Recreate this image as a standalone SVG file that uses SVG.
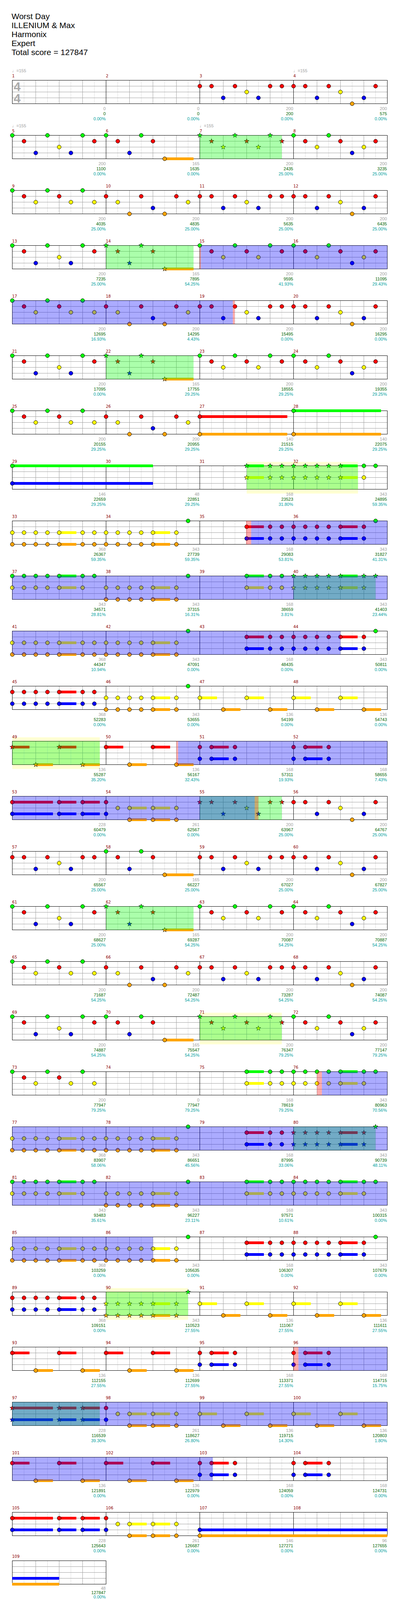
<svg xmlns="http://www.w3.org/2000/svg" width="1024" height="4153" viewBox="0 0 1024 4153">
<defs>
<style>
.gl{stroke:#dcdcdc;stroke-width:1;fill:none}
.gb{stroke:#a0a0a0;stroke-width:1;fill:none}
.gm{stroke:#000;stroke-width:1;fill:none}
.u{fill:none;stroke-width:7}
.uG{stroke:#00ff00}.uR{stroke:#ff0000}.uY{stroke:#ffff00}.uB{stroke:#0000ff}.uO{stroke:#ffa500}
.sp{fill:#00ff00;fill-opacity:.33}
.ac{fill:#0000ff;fill-opacity:.33}
.sq{fill:#ff0000;fill-opacity:.33}
.so{fill:#ffffd2}
.ti{font-family:"Liberation Sans",Arial,sans-serif;font-size:21px;fill:#000}
.ts{font-family:"Liberation Sans",Arial,sans-serif;font-size:32px;font-weight:bold;fill:#aaaaaa}
.tp{font-family:"Liberation Sans","DejaVu Sans",sans-serif;font-size:11px;fill:#a0a0a0}
.mn{font-family:"DejaVu Sans",sans-serif;font-size:10px;fill:#8b0000}
.s1,.s2,.s3{font-family:"Liberation Sans",Arial,sans-serif;font-size:11px;text-anchor:end}
.s1{fill:#a0a0a0}.s2{fill:#006400}.s3{fill:#00a0a0}
</style>
<circle id="G" r="5" stroke="#000" fill="#00ff00"/>
<circle id="R" cy="15" r="5" stroke="#000" fill="#ff0000"/>
<circle id="Y" cy="30" r="5" stroke="#000" fill="#ffff00"/>
<circle id="B" cy="45" r="5" stroke="#000" fill="#0000ff"/>
<circle id="O" cy="60" r="5" stroke="#000" fill="#ffa500"/>
<path id="sG" stroke="#000" stroke-width=".8" fill="#00ff00" d="M0-6.5L1.53-2.1 6.18-2.01 2.47.8 3.82 5.26 0 2.6-3.82 5.26-2.47.8-6.18-2.01-1.53-2.1Z"/>
<path id="sR" stroke="#000" stroke-width=".8" fill="#ff0000" transform="translate(0 15)" d="M0-6.5L1.53-2.1 6.18-2.01 2.47.8 3.82 5.26 0 2.6-3.82 5.26-2.47.8-6.18-2.01-1.53-2.1Z"/>
<path id="sY" stroke="#000" stroke-width=".8" fill="#ffff00" transform="translate(0 30)" d="M0-6.5L1.53-2.1 6.18-2.01 2.47.8 3.82 5.26 0 2.6-3.82 5.26-2.47.8-6.18-2.01-1.53-2.1Z"/>
<path id="sB" stroke="#000" stroke-width=".8" fill="#0000ff" transform="translate(0 45)" d="M0-6.5L1.53-2.1 6.18-2.01 2.47.8 3.82 5.26 0 2.6-3.82 5.26-2.47.8-6.18-2.01-1.53-2.1Z"/>
<path id="sO" stroke="#000" stroke-width=".8" fill="#ffa500" transform="translate(0 60)" d="M0-6.5L1.53-2.1 6.18-2.01 2.47.8 3.82 5.26 0 2.6-3.82 5.26-2.47.8-6.18-2.01-1.53-2.1Z"/>
<g id="staff">
<path class="gl" d="M61.5 0V60M121.5 0V60M181.5 0V60M241.5 0V60M301.5 0V60M361.5 0V60M421.5 0V60M481.5 0V60M541.5 0V60M601.5 0V60M661.5 0V60M721.5 0V60M781.5 0V60M841.5 0V60M901.5 0V60M961.5 0V60"/>
<path class="gb" d="M91.5 0V60M151.5 0V60M211.5 0V60M331.5 0V60M391.5 0V60M451.5 0V60M571.5 0V60M631.5 0V60M691.5 0V60M811.5 0V60M871.5 0V60M931.5 0V60M31.5 15H991.5M31.5 30H991.5M31.5 45H991.5"/>
<path class="gm" d="M271.5 0V60M511.5 0V60M751.5 0V60"/>
<rect class="gm" x="31.5" y="0" width="960" height="60"/>
</g>
<g id="staff1">
<path class="gl" d="M61.5 0V60M121.5 0V60M181.5 0V60M241.5 0V60"/>
<path class="gb" d="M91.5 0V60M151.5 0V60M211.5 0V60M31.5 15H271.5M31.5 30H271.5M31.5 45H271.5"/>
<rect class="gm" x="31.5" y="0" width="240" height="60"/>
</g>
<g id="pA"><use href="#G" x="31.5"/><use href="#R" x="61.5"/><use href="#B" x="91.5"/><use href="#G" x="121.5"/><use href="#Y" x="151.5"/><use href="#B" x="181.5"/><use href="#G" x="211.5"/><use href="#R" x="241.5"/></g>
<g id="pBn"><path class="u uO" d="M421.5 60h74"/><use href="#G" x="271.5"/><use href="#R" x="301.5"/><use href="#B" x="331.5"/><use href="#G" x="361.5"/><use href="#R" x="391.5"/><use href="#O" x="421.5"/></g>
<g id="pBs"><path class="u uO" d="M421.5 60h74"/><use href="#sG" x="271.5"/><use href="#sR" x="301.5"/><use href="#sB" x="331.5"/><use href="#sG" x="361.5"/><use href="#sR" x="391.5"/><use href="#sO" x="421.5"/></g>
<g id="pCn"><use href="#G" x="511.5"/><use href="#R" x="541.5"/><use href="#Y" x="571.5"/><use href="#G" x="601.5"/><use href="#R" x="631.5"/><use href="#Y" x="661.5"/><use href="#G" x="691.5"/><use href="#R" x="721.5"/></g>
<g id="pCs"><use href="#sG" x="511.5"/><use href="#sR" x="541.5"/><use href="#sY" x="571.5"/><use href="#sG" x="601.5"/><use href="#sR" x="631.5"/><use href="#sY" x="661.5"/><use href="#sG" x="691.5"/><use href="#sR" x="721.5"/></g>
<g id="pD"><use href="#G" x="751.5"/><use href="#R" x="781.5"/><use href="#Y" x="811.5"/><use href="#G" x="841.5"/><use href="#R" x="871.5"/><use href="#B" x="901.5"/><use href="#Y" x="931.5"/><use href="#R" x="961.5"/></g>
<g id="pE"><use href="#G" x="31.5"/><use href="#R" x="61.5"/><use href="#Y" x="91.5"/><use href="#G" x="121.5"/><use href="#R" x="151.5"/><use href="#Y" x="181.5"/><use href="#G" x="211.5"/><use href="#Y" x="241.5"/></g>
<g id="pF"><use href="#R" x="271.5"/><use href="#Y" x="301.5"/><use href="#O" x="331.5"/><use href="#R" x="361.5"/><use href="#B" x="391.5"/><use href="#O" x="421.5"/><use href="#R" x="451.5"/><use href="#Y" x="481.5"/></g>
<g id="pG"><use href="#R" x="511.5"/><use href="#R" x="541.5"/><use href="#B" x="571.5"/><use href="#R" x="601.5"/><use href="#Y" x="631.5"/><use href="#B" x="661.5"/><use href="#R" x="691.5"/><use href="#R" x="721.5"/></g>
<g id="pGs"><use href="#sR" x="511.5"/><use href="#sR" x="541.5"/><use href="#sB" x="571.5"/><use href="#sR" x="601.5"/><use href="#sY" x="631.5"/><use href="#sB" x="661.5"/><use href="#sR" x="691.5"/><use href="#sR" x="721.5"/></g>
<g id="pH"><use href="#R" x="751.5"/><use href="#R" x="781.5"/><use href="#B" x="811.5"/><use href="#R" x="841.5"/><use href="#Y" x="871.5"/><use href="#O" x="901.5"/><use href="#B" x="931.5"/><use href="#R" x="961.5"/></g>
<g id="yoA"><path class="u uY" d="M151.5 30h44"/><path class="u uO" d="M151.5 60h44"/><use href="#Y" x="31.5"/><use href="#O" x="31.5"/><use href="#Y" x="61.5"/><use href="#O" x="61.5"/><use href="#Y" x="91.5"/><use href="#O" x="91.5"/><use href="#Y" x="121.5"/><use href="#O" x="121.5"/><use href="#Y" x="151.5"/><use href="#O" x="151.5"/><use href="#Y" x="211.5"/><use href="#O" x="211.5"/><use href="#Y" x="241.5"/><use href="#O" x="241.5"/></g>
<g id="gyA"><path class="u uG" d="M151.5 0h44"/><path class="u uY" d="M151.5 30h44"/><use href="#G" x="31.5"/><use href="#Y" x="31.5"/><use href="#G" x="61.5"/><use href="#Y" x="61.5"/><use href="#G" x="91.5"/><use href="#Y" x="91.5"/><use href="#G" x="121.5"/><use href="#Y" x="121.5"/><use href="#G" x="151.5"/><use href="#Y" x="151.5"/><use href="#G" x="211.5"/><use href="#Y" x="211.5"/><use href="#G" x="241.5"/></g>
<g id="rbA"><path class="u uR" d="M151.5 15h44"/><path class="u uB" d="M151.5 45h44"/><use href="#R" x="31.5"/><use href="#B" x="31.5"/><use href="#R" x="61.5"/><use href="#B" x="61.5"/><use href="#R" x="91.5"/><use href="#B" x="91.5"/><use href="#R" x="121.5"/><use href="#B" x="121.5"/><use href="#R" x="151.5"/><use href="#B" x="151.5"/><use href="#R" x="211.5"/><use href="#B" x="211.5"/><use href="#R" x="241.5"/><use href="#B" x="241.5"/></g>
<g id="yoB"><path class="u uY" d="M391.5 30h44"/><path class="u uO" d="M391.5 60h44"/><use href="#Y" x="271.5"/><use href="#O" x="271.5"/><use href="#Y" x="301.5"/><use href="#O" x="301.5"/><use href="#Y" x="331.5"/><use href="#O" x="331.5"/><use href="#Y" x="361.5"/><use href="#O" x="361.5"/><use href="#Y" x="391.5"/><use href="#O" x="391.5"/><use href="#Y" x="451.5"/><use href="#O" x="451.5"/><use href="#G" x="481.5"/></g>
<g id="rbC"><path class="u uR" d="M631.5 15h44M871.5 15h44"/><path class="u uB" d="M631.5 45h44M871.5 45h44"/><use href="#R" x="631.5"/><use href="#B" x="631.5"/><use href="#R" x="691.5"/><use href="#B" x="691.5"/><use href="#R" x="721.5"/><use href="#B" x="721.5"/><use href="#R" x="751.5"/><use href="#B" x="751.5"/><use href="#R" x="781.5"/><use href="#B" x="781.5"/><use href="#R" x="811.5"/><use href="#B" x="811.5"/><use href="#R" x="841.5"/><use href="#B" x="841.5"/><use href="#R" x="871.5"/><use href="#B" x="871.5"/><use href="#R" x="931.5"/><use href="#B" x="931.5"/><use href="#G" x="961.5"/></g>
<g id="gyC"><path class="u uG" d="M631.5 0h44M871.5 0h44"/><path class="u uY" d="M631.5 30h44M871.5 30h44"/><use href="#G" x="631.5"/><use href="#Y" x="631.5"/><use href="#G" x="691.5"/><use href="#Y" x="691.5"/><use href="#G" x="721.5"/><use href="#Y" x="721.5"/><use href="#G" x="751.5"/><use href="#Y" x="751.5"/><use href="#G" x="781.5"/><use href="#Y" x="781.5"/><use href="#G" x="811.5"/><use href="#Y" x="811.5"/><use href="#G" x="841.5"/><use href="#Y" x="841.5"/><use href="#G" x="871.5"/><use href="#Y" x="871.5"/><use href="#G" x="931.5"/><use href="#Y" x="931.5"/><use href="#G" x="961.5"/></g>
<g id="alt"><path class="u uY" d="M511.5 30h44M631.5 30h44M751.5 30h44M871.5 30h44"/><path class="u uO" d="M571.5 60h44M691.5 60h44M811.5 60h44M931.5 60h44"/><use href="#Y" x="511.5"/><use href="#O" x="571.5"/><use href="#Y" x="631.5"/><use href="#O" x="691.5"/><use href="#Y" x="751.5"/><use href="#O" x="811.5"/><use href="#Y" x="871.5"/><use href="#O" x="931.5"/></g>
<g id="ro"><path class="u uR" d="M31.5 15h44M151.5 15h44M271.5 15h44M391.5 15h44"/><path class="u uO" d="M91.5 60h44M211.5 60h44M331.5 60h44M451.5 60h44"/><use href="#R" x="31.5"/><use href="#O" x="91.5"/><use href="#R" x="151.5"/><use href="#O" x="211.5"/><use href="#R" x="271.5"/><use href="#O" x="331.5"/><use href="#R" x="391.5"/><use href="#O" x="451.5"/></g>
<g id="rbD"><path class="u uR" d="M541.5 15h44M781.5 15h44"/><path class="u uB" d="M541.5 45h44M781.5 45h44"/><use href="#R" x="511.5"/><use href="#B" x="511.5"/><use href="#R" x="541.5"/><use href="#B" x="541.5"/><use href="#R" x="601.5"/><use href="#B" x="601.5"/><use href="#R" x="751.5"/><use href="#B" x="751.5"/><use href="#R" x="781.5"/><use href="#B" x="781.5"/><use href="#R" x="841.5"/><use href="#B" x="841.5"/></g>
<g id="m53"><path class="u uR" d="M31.5 15h104M151.5 15h44M211.5 15h44"/><path class="u uB" d="M31.5 45h104M151.5 45h44M211.5 45h44"/><path class="u uY" d="M331.5 30h44M391.5 30h44"/><path class="u uO" d="M331.5 60h44M391.5 60h44"/><use href="#R" x="31.5"/><use href="#B" x="31.5"/><use href="#R" x="151.5"/><use href="#B" x="151.5"/><use href="#R" x="211.5"/><use href="#B" x="211.5"/><use href="#R" x="271.5"/><use href="#B" x="271.5"/><use href="#Y" x="301.5"/><use href="#Y" x="331.5"/><use href="#O" x="331.5"/><use href="#Y" x="391.5"/><use href="#O" x="391.5"/><use href="#Y" x="451.5"/><use href="#O" x="451.5"/></g>
</defs>
<rect x="0" y="0" width="1024" height="4153" fill="#fff"/>
<g id="title">
<text class="ti" x="29.5" y="49.3">Worst Day</text>
<text class="ti" x="29.5" y="72.3">ILLENIUM &amp; Max</text>
<text class="ti" x="29.5" y="95.3">Harmonix</text>
<text class="ti" x="29.5" y="118.3">Expert</text>
<text class="ti" x="29.5" y="141.3">Total score = 127847</text>
</g>

<g id="row1" transform="translate(0,205.5)">
<use href="#staff"/>
<text class="ts" x="35" y="27">4</text><text class="ts" x="35" y="57">4</text>
<use href="#pG"/><use href="#pH"/>
<text class="tp" x="31" y="-20.5">♩=155</text><text class="tp" x="751" y="-20.5">♩=155</text>
<text class="mn" x="31" y="-8">1</text><text class="mn" x="271" y="-8">2</text><text class="mn" x="511" y="-8">3</text><text class="mn" x="751" y="-8">4</text>
<text class="s1" x="270.5" y="76.5">0</text><text class="s2" x="270.5" y="89.8">0</text><text class="s3" x="270.5" y="102.5">0.00%</text>
<text class="s1" x="510.5" y="76.5">0</text><text class="s2" x="510.5" y="89.8">0</text><text class="s3" x="510.5" y="102.5">0.00%</text>
<text class="s1" x="750.5" y="76.5">200</text><text class="s2" x="750.5" y="89.8">200</text><text class="s3" x="750.5" y="102.5">0.00%</text>
<text class="s1" x="990.5" y="76.5">200</text><text class="s2" x="990.5" y="89.8">575</text><text class="s3" x="990.5" y="102.5">0.00%</text>
</g>

<g id="row2" transform="translate(0,346.5)">
<use href="#staff"/>
<use href="#pA"/><use href="#pBn"/><use href="#pCs"/><use href="#pD"/>
<rect class="sp" x="511.5" y="0" width="210" height="60"/>
<text class="tp" x="31" y="-20.5">♩=155</text><text class="tp" x="511" y="-20.5">♩=155</text>
<text class="mn" x="31" y="-8">5</text><text class="mn" x="271" y="-8">6</text><text class="mn" x="511" y="-8">7</text><text class="mn" x="751" y="-8">8</text>
<text class="s1" x="270.5" y="76.5">200</text><text class="s2" x="270.5" y="89.8">1100</text><text class="s3" x="270.5" y="102.5">0.00%</text>
<text class="s1" x="510.5" y="76.5">165</text><text class="s2" x="510.5" y="89.8">1635</text><text class="s3" x="510.5" y="102.5">0.00%</text>
<text class="s1" x="750.5" y="76.5">200</text><text class="s2" x="750.5" y="89.8">2435</text><text class="s3" x="750.5" y="102.5">25.00%</text>
<text class="s1" x="990.5" y="76.5">200</text><text class="s2" x="990.5" y="89.8">3235</text><text class="s3" x="990.5" y="102.5">25.00%</text>
</g>

<g id="row3" transform="translate(0,487.5)">
<use href="#staff"/>
<use href="#pE"/><use href="#pF"/><use href="#pG"/><use href="#pH"/>
<text class="mn" x="31" y="-8">9</text><text class="mn" x="271" y="-8">10</text><text class="mn" x="511" y="-8">11</text><text class="mn" x="751" y="-8">12</text>
<text class="s1" x="270.5" y="76.5">200</text><text class="s2" x="270.5" y="89.8">4035</text><text class="s3" x="270.5" y="102.5">25.00%</text>
<text class="s1" x="510.5" y="76.5">200</text><text class="s2" x="510.5" y="89.8">4835</text><text class="s3" x="510.5" y="102.5">25.00%</text>
<text class="s1" x="750.5" y="76.5">200</text><text class="s2" x="750.5" y="89.8">5635</text><text class="s3" x="750.5" y="102.5">25.00%</text>
<text class="s1" x="990.5" y="76.5">200</text><text class="s2" x="990.5" y="89.8">6435</text><text class="s3" x="990.5" y="102.5">25.00%</text>
</g>

<g id="row4" transform="translate(0,628.5)">
<use href="#staff"/>
<use href="#pA"/><use href="#pBs"/><use href="#pCn"/><use href="#pD"/>
<rect class="sp" x="271.5" y="0" width="224" height="60"/>
<rect class="sq" x="511.5" y="0" width="2.5" height="60"/>
<rect class="ac" x="514" y="0" width="477.5" height="60"/>
<text class="mn" x="31" y="-8">13</text><text class="mn" x="271" y="-8">14</text><text class="mn" x="511" y="-8">15</text><text class="mn" x="751" y="-8">16</text>
<text class="s1" x="270.5" y="76.5">200</text><text class="s2" x="270.5" y="89.8">7235</text><text class="s3" x="270.5" y="102.5">25.00%</text>
<text class="s1" x="510.5" y="76.5">165</text><text class="s2" x="510.5" y="89.8">7895</text><text class="s3" x="510.5" y="102.5">54.25%</text>
<text class="s1" x="750.5" y="76.5">200</text><text class="s2" x="750.5" y="89.8">9595</text><text class="s3" x="750.5" y="102.5">41.93%</text>
<text class="s1" x="990.5" y="76.5">200</text><text class="s2" x="990.5" y="89.8">11095</text><text class="s3" x="990.5" y="102.5">29.43%</text>
</g>

<g id="row5" transform="translate(0,769.5)">
<use href="#staff"/>
<use href="#pE"/><use href="#pF"/><use href="#pG"/><use href="#pH"/>
<rect class="ac" x="31.5" y="0" width="564.5" height="60"/>
<rect class="sq" x="596" y="0" width="5" height="60"/>
<text class="mn" x="31" y="-8">17</text><text class="mn" x="271" y="-8">18</text><text class="mn" x="511" y="-8">19</text><text class="mn" x="751" y="-8">20</text>
<text class="s1" x="270.5" y="76.5">200</text><text class="s2" x="270.5" y="89.8">12695</text><text class="s3" x="270.5" y="102.5">16.93%</text>
<text class="s1" x="510.5" y="76.5">200</text><text class="s2" x="510.5" y="89.8">14295</text><text class="s3" x="510.5" y="102.5">4.43%</text>
<text class="s1" x="750.5" y="76.5">200</text><text class="s2" x="750.5" y="89.8">15495</text><text class="s3" x="750.5" y="102.5">0.00%</text>
<text class="s1" x="990.5" y="76.5">200</text><text class="s2" x="990.5" y="89.8">16295</text><text class="s3" x="990.5" y="102.5">0.00%</text>
</g>

<g id="row6" transform="translate(0,910.5)">
<use href="#staff"/>
<use href="#pA"/><use href="#pBs"/><use href="#pCn"/><use href="#pD"/>
<rect class="sp" x="271.5" y="0" width="224" height="60"/>
<text class="mn" x="31" y="-8">21</text><text class="mn" x="271" y="-8">22</text><text class="mn" x="511" y="-8">23</text><text class="mn" x="751" y="-8">24</text>
<text class="s1" x="270.5" y="76.5">200</text><text class="s2" x="270.5" y="89.8">17095</text><text class="s3" x="270.5" y="102.5">0.00%</text>
<text class="s1" x="510.5" y="76.5">165</text><text class="s2" x="510.5" y="89.8">17755</text><text class="s3" x="510.5" y="102.5">29.25%</text>
<text class="s1" x="750.5" y="76.5">200</text><text class="s2" x="750.5" y="89.8">18555</text><text class="s3" x="750.5" y="102.5">29.25%</text>
<text class="s1" x="990.5" y="76.5">200</text><text class="s2" x="990.5" y="89.8">19355</text><text class="s3" x="990.5" y="102.5">29.25%</text>
</g>

<g id="row7" transform="translate(0,1051.5)">
<use href="#staff"/>
<use href="#pE"/><use href="#pF"/>
<path class="u uR" d="M511.5 15h224"/><path class="u uO" d="M511.5 60h224M751.5 60h224"/><path class="u uG" d="M751.5 0h224"/>
<use href="#R" x="511.5"/><use href="#O" x="511.5"/><use href="#G" x="751.5"/><use href="#O" x="751.5"/>
<text class="mn" x="31" y="-8">25</text><text class="mn" x="271" y="-8">26</text><text class="mn" x="511" y="-8">27</text><text class="mn" x="751" y="-8">28</text>
<text class="s1" x="270.5" y="76.5">200</text><text class="s2" x="270.5" y="89.8">20155</text><text class="s3" x="270.5" y="102.5">29.25%</text>
<text class="s1" x="510.5" y="76.5">200</text><text class="s2" x="510.5" y="89.8">20955</text><text class="s3" x="510.5" y="102.5">29.25%</text>
<text class="s1" x="750.5" y="76.5">140</text><text class="s2" x="750.5" y="89.8">21515</text><text class="s3" x="750.5" y="102.5">29.25%</text>
<text class="s1" x="990.5" y="76.5">140</text><text class="s2" x="990.5" y="89.8">22075</text><text class="s3" x="990.5" y="102.5">29.25%</text>
</g>

<g id="row8" transform="translate(0,1192.5)">
<rect class="so" x="631.5" y="-10" width="285" height="81"/>
<use href="#staff"/>
<path class="u uG" d="M31.5 0H391.5M631.5 0h44M871.5 0h44"/><path class="u uB" d="M31.5 45H391.5"/><path class="u uY" d="M631.5 30h44M871.5 30h44"/>
<use href="#G" x="31.5"/><use href="#B" x="31.5"/>
<use href="#sG" x="631.5"/><use href="#sY" x="631.5"/><use href="#sG" x="691.5"/><use href="#sY" x="691.5"/><use href="#sG" x="721.5"/><use href="#sY" x="721.5"/><use href="#sG" x="751.5"/><use href="#sY" x="751.5"/><use href="#sG" x="781.5"/><use href="#sY" x="781.5"/><use href="#sG" x="811.5"/><use href="#sY" x="811.5"/><use href="#sG" x="841.5"/><use href="#sY" x="841.5"/><use href="#sG" x="871.5"/><use href="#sY" x="871.5"/>
<use href="#G" x="931.5"/><use href="#Y" x="931.5"/><use href="#G" x="961.5"/>
<rect class="sp" x="631.5" y="0" width="285" height="60"/>
<text class="mn" x="31" y="-8">29</text><text class="mn" x="271" y="-8">30</text><text class="mn" x="511" y="-8">31</text><text class="mn" x="751" y="-8">32</text>
<text class="s1" x="270.5" y="76.5">146</text><text class="s2" x="270.5" y="89.8">22659</text><text class="s3" x="270.5" y="102.5">29.25%</text>
<text class="s1" x="510.5" y="76.5">48</text><text class="s2" x="510.5" y="89.8">22851</text><text class="s3" x="510.5" y="102.5">29.25%</text>
<text class="s1" x="750.5" y="76.5">168</text><text class="s2" x="750.5" y="89.8">23523</text><text class="s3" x="750.5" y="102.5">31.80%</text>
<text class="s1" x="990.5" y="76.5">343</text><text class="s2" x="990.5" y="89.8">24895</text><text class="s3" x="990.5" y="102.5">59.35%</text>
</g>

<g id="row9" transform="translate(0,1333.5)">
<use href="#staff"/>
<use href="#yoA"/><use href="#yoB"/><use href="#rbC"/>
<rect class="sq" x="630" y="0" width="13" height="60"/>
<rect class="ac" x="643" y="0" width="348.5" height="60"/>
<text class="mn" x="31" y="-8">33</text><text class="mn" x="271" y="-8">34</text><text class="mn" x="511" y="-8">35</text><text class="mn" x="751" y="-8">36</text>
<text class="s1" x="270.5" y="76.5">368</text><text class="s2" x="270.5" y="89.8">26367</text><text class="s3" x="270.5" y="102.5">59.35%</text>
<text class="s1" x="510.5" y="76.5">343</text><text class="s2" x="510.5" y="89.8">27739</text><text class="s3" x="510.5" y="102.5">59.35%</text>
<text class="s1" x="750.5" y="76.5">168</text><text class="s2" x="750.5" y="89.8">29083</text><text class="s3" x="750.5" y="102.5">53.81%</text>
<text class="s1" x="990.5" y="76.5">343</text><text class="s2" x="990.5" y="89.8">31827</text><text class="s3" x="990.5" y="102.5">41.31%</text>
</g>

<g id="row10" transform="translate(0,1474.5)">
<use href="#staff"/>
<use href="#gyA"/><use href="#yoB"/>
<path class="u uG" d="M631.5 0h44M871.5 0h44"/><path class="u uY" d="M631.5 30h44M871.5 30h44"/>
<use href="#G" x="631.5"/><use href="#Y" x="631.5"/><use href="#G" x="691.5"/><use href="#Y" x="691.5"/><use href="#G" x="721.5"/><use href="#Y" x="721.5"/>
<use href="#sG" x="751.5"/><use href="#sY" x="751.5"/><use href="#sG" x="781.5"/><use href="#sY" x="781.5"/><use href="#sG" x="811.5"/><use href="#sY" x="811.5"/><use href="#sG" x="841.5"/><use href="#sY" x="841.5"/><use href="#sG" x="871.5"/><use href="#sY" x="871.5"/><use href="#sG" x="931.5"/><use href="#sY" x="931.5"/><use href="#sG" x="961.5"/>
<rect class="sp" x="751.5" y="0" width="210" height="60"/>
<rect class="ac" x="31.5" y="0" width="960" height="60"/>
<text class="mn" x="31" y="-8">37</text><text class="mn" x="271" y="-8">38</text><text class="mn" x="511" y="-8">39</text><text class="mn" x="751" y="-8">40</text>
<text class="s1" x="270.5" y="76.5">343</text><text class="s2" x="270.5" y="89.8">34571</text><text class="s3" x="270.5" y="102.5">28.81%</text>
<text class="s1" x="510.5" y="76.5">343</text><text class="s2" x="510.5" y="89.8">37315</text><text class="s3" x="510.5" y="102.5">16.31%</text>
<text class="s1" x="750.5" y="76.5">168</text><text class="s2" x="750.5" y="89.8">38659</text><text class="s3" x="750.5" y="102.5">3.81%</text>
<text class="s1" x="990.5" y="76.5">343</text><text class="s2" x="990.5" y="89.8">41403</text><text class="s3" x="990.5" y="102.5">23.44%</text>
</g>

<g id="row11" transform="translate(0,1615.5)">
<use href="#staff"/>
<use href="#yoA"/><use href="#yoB"/><use href="#rbC"/>
<rect class="ac" x="31.5" y="0" width="840" height="60"/>
<text class="mn" x="31" y="-8">41</text><text class="mn" x="271" y="-8">42</text><text class="mn" x="511" y="-8">43</text><text class="mn" x="751" y="-8">44</text>
<text class="s1" x="270.5" y="76.5">368</text><text class="s2" x="270.5" y="89.8">44347</text><text class="s3" x="270.5" y="102.5">10.94%</text>
<text class="s1" x="510.5" y="76.5">343</text><text class="s2" x="510.5" y="89.8">47091</text><text class="s3" x="510.5" y="102.5">0.00%</text>
<text class="s1" x="750.5" y="76.5">168</text><text class="s2" x="750.5" y="89.8">48435</text><text class="s3" x="750.5" y="102.5">0.00%</text>
<text class="s1" x="990.5" y="76.5">343</text><text class="s2" x="990.5" y="89.8">50811</text><text class="s3" x="990.5" y="102.5">0.00%</text>
</g>

<g id="row12" transform="translate(0,1756.5)">
<use href="#staff"/>
<use href="#rbA"/><use href="#yoB"/><use href="#alt"/>
<text class="mn" x="31" y="-8">45</text><text class="mn" x="271" y="-8">46</text><text class="mn" x="511" y="-8">47</text><text class="mn" x="751" y="-8">48</text>
<text class="s1" x="270.5" y="76.5">368</text><text class="s2" x="270.5" y="89.8">52283</text><text class="s3" x="270.5" y="102.5">0.00%</text>
<text class="s1" x="510.5" y="76.5">343</text><text class="s2" x="510.5" y="89.8">53655</text><text class="s3" x="510.5" y="102.5">0.00%</text>
<text class="s1" x="750.5" y="76.5">136</text><text class="s2" x="750.5" y="89.8">54199</text><text class="s3" x="750.5" y="102.5">0.00%</text>
<text class="s1" x="990.5" y="76.5">136</text><text class="s2" x="990.5" y="89.8">54743</text><text class="s3" x="990.5" y="102.5">0.00%</text>
</g>

<g id="row13" transform="translate(0,1897.5)">
<rect class="so" x="31.5" y="-10" width="224" height="81"/>
<use href="#staff"/>
<path class="u uR" d="M31.5 15h44M151.5 15h44M271.5 15h44M391.5 15h44"/><path class="u uO" d="M91.5 60h44M211.5 60h44M331.5 60h44M451.5 60h44"/>
<use href="#sR" x="31.5"/><use href="#sO" x="91.5"/><use href="#sR" x="151.5"/><use href="#sO" x="211.5"/>
<use href="#R" x="271.5"/><use href="#O" x="331.5"/><use href="#R" x="391.5"/><use href="#O" x="451.5"/>
<use href="#rbD"/>
<rect class="sp" x="31.5" y="0" width="224" height="60"/>
<rect class="sq" x="451.5" y="0" width="4.5" height="60"/>
<rect class="ac" x="456" y="0" width="535.5" height="60"/>
<text class="mn" x="31" y="-8">49</text><text class="mn" x="271" y="-8">50</text><text class="mn" x="511" y="-8">51</text><text class="mn" x="751" y="-8">52</text>
<text class="s1" x="270.5" y="76.5">136</text><text class="s2" x="270.5" y="89.8">55287</text><text class="s3" x="270.5" y="102.5">35.20%</text>
<text class="s1" x="510.5" y="76.5">136</text><text class="s2" x="510.5" y="89.8">56167</text><text class="s3" x="510.5" y="102.5">32.43%</text>
<text class="s1" x="750.5" y="76.5">168</text><text class="s2" x="750.5" y="89.8">57311</text><text class="s3" x="750.5" y="102.5">19.93%</text>
<text class="s1" x="990.5" y="76.5">168</text><text class="s2" x="990.5" y="89.8">58655</text><text class="s3" x="990.5" y="102.5">7.43%</text>
</g>

<g id="row14" transform="translate(0,2038.5)">
<use href="#staff"/>
<use href="#m53"/><use href="#pGs"/><use href="#pH"/>
<rect class="sp" x="511.5" y="0" width="210" height="60"/>
<rect class="ac" x="31.5" y="0" width="620.5" height="60"/>
<rect class="sq" x="652" y="0" width="9.5" height="60"/>
<text class="mn" x="31" y="-8">53</text><text class="mn" x="271" y="-8">54</text><text class="mn" x="511" y="-8">55</text><text class="mn" x="751" y="-8">56</text>
<text class="s1" x="270.5" y="76.5">228</text><text class="s2" x="270.5" y="89.8">60479</text><text class="s3" x="270.5" y="102.5">0.00%</text>
<text class="s1" x="510.5" y="76.5">261</text><text class="s2" x="510.5" y="89.8">62567</text><text class="s3" x="510.5" y="102.5">0.00%</text>
<text class="s1" x="750.5" y="76.5">200</text><text class="s2" x="750.5" y="89.8">63967</text><text class="s3" x="750.5" y="102.5">25.00%</text>
<text class="s1" x="990.5" y="76.5">200</text><text class="s2" x="990.5" y="89.8">64767</text><text class="s3" x="990.5" y="102.5">25.00%</text>
</g>

<g id="row15" transform="translate(0,2179.5)">
<use href="#staff"/>
<use href="#pG" x="-480"/><use href="#pBn"/><use href="#pG"/><use href="#pH"/>
<text class="mn" x="31" y="-8">57</text><text class="mn" x="271" y="-8">58</text><text class="mn" x="511" y="-8">59</text><text class="mn" x="751" y="-8">60</text>
<text class="s1" x="270.5" y="76.5">200</text><text class="s2" x="270.5" y="89.8">65567</text><text class="s3" x="270.5" y="102.5">25.00%</text>
<text class="s1" x="510.5" y="76.5">165</text><text class="s2" x="510.5" y="89.8">66227</text><text class="s3" x="510.5" y="102.5">25.00%</text>
<text class="s1" x="750.5" y="76.5">200</text><text class="s2" x="750.5" y="89.8">67027</text><text class="s3" x="750.5" y="102.5">25.00%</text>
<text class="s1" x="990.5" y="76.5">200</text><text class="s2" x="990.5" y="89.8">67827</text><text class="s3" x="990.5" y="102.5">25.00%</text>
</g>

<g id="row16" transform="translate(0,2320.5)">
<use href="#staff"/>
<use href="#pA"/><use href="#pBs"/><use href="#pCn"/><use href="#pD"/>
<rect class="sp" x="271.5" y="0" width="224" height="60"/>
<text class="mn" x="31" y="-8">61</text><text class="mn" x="271" y="-8">62</text><text class="mn" x="511" y="-8">63</text><text class="mn" x="751" y="-8">64</text>
<text class="s1" x="270.5" y="76.5">200</text><text class="s2" x="270.5" y="89.8">68627</text><text class="s3" x="270.5" y="102.5">25.00%</text>
<text class="s1" x="510.5" y="76.5">165</text><text class="s2" x="510.5" y="89.8">69287</text><text class="s3" x="510.5" y="102.5">54.25%</text>
<text class="s1" x="750.5" y="76.5">200</text><text class="s2" x="750.5" y="89.8">70087</text><text class="s3" x="750.5" y="102.5">54.25%</text>
<text class="s1" x="990.5" y="76.5">200</text><text class="s2" x="990.5" y="89.8">70887</text><text class="s3" x="990.5" y="102.5">54.25%</text>
</g>

<g id="row17" transform="translate(0,2461.5)">
<use href="#staff"/>
<use href="#pE"/><use href="#pF"/><use href="#pG"/><use href="#pH"/>
<text class="mn" x="31" y="-8">65</text><text class="mn" x="271" y="-8">66</text><text class="mn" x="511" y="-8">67</text><text class="mn" x="751" y="-8">68</text>
<text class="s1" x="270.5" y="76.5">200</text><text class="s2" x="270.5" y="89.8">71687</text><text class="s3" x="270.5" y="102.5">54.25%</text>
<text class="s1" x="510.5" y="76.5">200</text><text class="s2" x="510.5" y="89.8">72487</text><text class="s3" x="510.5" y="102.5">54.25%</text>
<text class="s1" x="750.5" y="76.5">200</text><text class="s2" x="750.5" y="89.8">73287</text><text class="s3" x="750.5" y="102.5">54.25%</text>
<text class="s1" x="990.5" y="76.5">200</text><text class="s2" x="990.5" y="89.8">74087</text><text class="s3" x="990.5" y="102.5">54.25%</text>
</g>

<g id="row18" transform="translate(0,2602.5)">
<rect class="so" x="511.5" y="-10" width="210" height="81"/>
<use href="#staff"/>
<use href="#pA"/><use href="#pBn"/><use href="#pCs"/><use href="#pD"/>
<rect class="sp" x="511.5" y="0" width="210" height="60"/>
<text class="mn" x="31" y="-8">69</text><text class="mn" x="271" y="-8">70</text><text class="mn" x="511" y="-8">71</text><text class="mn" x="751" y="-8">72</text>
<text class="s1" x="270.5" y="76.5">200</text><text class="s2" x="270.5" y="89.8">74887</text><text class="s3" x="270.5" y="102.5">54.25%</text>
<text class="s1" x="510.5" y="76.5">165</text><text class="s2" x="510.5" y="89.8">75547</text><text class="s3" x="510.5" y="102.5">54.25%</text>
<text class="s1" x="750.5" y="76.5">200</text><text class="s2" x="750.5" y="89.8">76347</text><text class="s3" x="750.5" y="102.5">79.25%</text>
<text class="s1" x="990.5" y="76.5">200</text><text class="s2" x="990.5" y="89.8">77147</text><text class="s3" x="990.5" y="102.5">79.25%</text>
</g>

<g id="row19" transform="translate(0,2743.5)">
<use href="#staff"/>
<use href="#pE"/><use href="#gyC"/>
<rect class="sq" x="811.5" y="0" width="12.5" height="60"/>
<rect class="ac" x="824" y="0" width="167.5" height="60"/>
<text class="mn" x="31" y="-8">73</text><text class="mn" x="271" y="-8">74</text><text class="mn" x="511" y="-8">75</text><text class="mn" x="751" y="-8">76</text>
<text class="s1" x="270.5" y="76.5">200</text><text class="s2" x="270.5" y="89.8">77947</text><text class="s3" x="270.5" y="102.5">79.25%</text>
<text class="s1" x="510.5" y="76.5">0</text><text class="s2" x="510.5" y="89.8">77947</text><text class="s3" x="510.5" y="102.5">79.25%</text>
<text class="s1" x="750.5" y="76.5">168</text><text class="s2" x="750.5" y="89.8">78619</text><text class="s3" x="750.5" y="102.5">79.25%</text>
<text class="s1" x="990.5" y="76.5">343</text><text class="s2" x="990.5" y="89.8">80963</text><text class="s3" x="990.5" y="102.5">70.56%</text>
</g>

<g id="row20" transform="translate(0,2884.5)">
<use href="#staff"/>
<use href="#yoA"/><use href="#yoB"/>
<path class="u uR" d="M631.5 15h44M871.5 15h44"/><path class="u uB" d="M631.5 45h44M871.5 45h44"/>
<use href="#R" x="631.5"/><use href="#B" x="631.5"/><use href="#R" x="691.5"/><use href="#B" x="691.5"/><use href="#R" x="721.5"/><use href="#B" x="721.5"/>
<use href="#sR" x="751.5"/><use href="#sB" x="751.5"/><use href="#sR" x="781.5"/><use href="#sB" x="781.5"/><use href="#sR" x="811.5"/><use href="#sB" x="811.5"/><use href="#sR" x="841.5"/><use href="#sB" x="841.5"/><use href="#sR" x="871.5"/><use href="#sB" x="871.5"/><use href="#sR" x="931.5"/><use href="#sB" x="931.5"/><use href="#sG" x="961.5"/>
<rect class="sp" x="751.5" y="0" width="210" height="60"/>
<rect class="ac" x="31.5" y="0" width="960" height="60"/>
<text class="mn" x="31" y="-8">77</text><text class="mn" x="271" y="-8">78</text><text class="mn" x="511" y="-8">79</text><text class="mn" x="751" y="-8">80</text>
<text class="s1" x="270.5" y="76.5">368</text><text class="s2" x="270.5" y="89.8">83907</text><text class="s3" x="270.5" y="102.5">58.06%</text>
<text class="s1" x="510.5" y="76.5">343</text><text class="s2" x="510.5" y="89.8">86651</text><text class="s3" x="510.5" y="102.5">45.56%</text>
<text class="s1" x="750.5" y="76.5">168</text><text class="s2" x="750.5" y="89.8">87995</text><text class="s3" x="750.5" y="102.5">33.06%</text>
<text class="s1" x="990.5" y="76.5">343</text><text class="s2" x="990.5" y="89.8">90739</text><text class="s3" x="990.5" y="102.5">48.11%</text>
</g>

<g id="row21" transform="translate(0,3025.5)">
<use href="#staff"/>
<use href="#gyA"/><use href="#yoB"/><use href="#gyC"/>
<rect class="ac" x="31.5" y="0" width="960" height="60"/>
<text class="mn" x="31" y="-8">81</text><text class="mn" x="271" y="-8">82</text><text class="mn" x="511" y="-8">83</text><text class="mn" x="751" y="-8">84</text>
<text class="s1" x="270.5" y="76.5">343</text><text class="s2" x="270.5" y="89.8">93483</text><text class="s3" x="270.5" y="102.5">35.61%</text>
<text class="s1" x="510.5" y="76.5">343</text><text class="s2" x="510.5" y="89.8">96227</text><text class="s3" x="510.5" y="102.5">23.11%</text>
<text class="s1" x="750.5" y="76.5">168</text><text class="s2" x="750.5" y="89.8">97571</text><text class="s3" x="750.5" y="102.5">10.61%</text>
<text class="s1" x="990.5" y="76.5">343</text><text class="s2" x="990.5" y="89.8">100315</text><text class="s3" x="990.5" y="102.5">0.00%</text>
</g>

<g id="row22" transform="translate(0,3166.5)">
<use href="#staff"/>
<use href="#yoA"/><use href="#yoB"/><use href="#rbC"/>
<rect class="ac" x="31.5" y="0" width="360" height="60"/>
<text class="mn" x="31" y="-8">85</text><text class="mn" x="271" y="-8">86</text><text class="mn" x="511" y="-8">87</text><text class="mn" x="751" y="-8">88</text>
<text class="s1" x="270.5" y="76.5">368</text><text class="s2" x="270.5" y="89.8">103259</text><text class="s3" x="270.5" y="102.5">0.00%</text>
<text class="s1" x="510.5" y="76.5">343</text><text class="s2" x="510.5" y="89.8">105635</text><text class="s3" x="510.5" y="102.5">0.00%</text>
<text class="s1" x="750.5" y="76.5">168</text><text class="s2" x="750.5" y="89.8">106307</text><text class="s3" x="750.5" y="102.5">0.00%</text>
<text class="s1" x="990.5" y="76.5">343</text><text class="s2" x="990.5" y="89.8">107679</text><text class="s3" x="990.5" y="102.5">0.00%</text>
</g>

<g id="row23" transform="translate(0,3307.5)">
<rect class="so" x="271.5" y="-10" width="210" height="81"/>
<use href="#staff"/>
<use href="#rbA"/>
<path class="u uY" d="M391.5 30h44"/><path class="u uO" d="M391.5 60h44"/>
<use href="#sY" x="271.5"/><use href="#sO" x="271.5"/><use href="#sY" x="301.5"/><use href="#sO" x="301.5"/><use href="#sY" x="331.5"/><use href="#sO" x="331.5"/><use href="#sY" x="361.5"/><use href="#sO" x="361.5"/><use href="#sY" x="391.5"/><use href="#sO" x="391.5"/><use href="#sY" x="451.5"/><use href="#sO" x="451.5"/><use href="#sG" x="481.5"/>
<use href="#alt"/>
<rect class="sp" x="271.5" y="0" width="210" height="60"/>
<text class="mn" x="31" y="-8">89</text><text class="mn" x="271" y="-8">90</text><text class="mn" x="511" y="-8">91</text><text class="mn" x="751" y="-8">92</text>
<text class="s1" x="270.5" y="76.5">368</text><text class="s2" x="270.5" y="89.8">109151</text><text class="s3" x="270.5" y="102.5">0.00%</text>
<text class="s1" x="510.5" y="76.5">343</text><text class="s2" x="510.5" y="89.8">110523</text><text class="s3" x="510.5" y="102.5">27.55%</text>
<text class="s1" x="750.5" y="76.5">136</text><text class="s2" x="750.5" y="89.8">111067</text><text class="s3" x="750.5" y="102.5">27.55%</text>
<text class="s1" x="990.5" y="76.5">136</text><text class="s2" x="990.5" y="89.8">111611</text><text class="s3" x="990.5" y="102.5">27.55%</text>
</g>

<g id="row24" transform="translate(0,3448.5)">
<use href="#staff"/>
<use href="#ro"/><use href="#rbD"/>
<rect class="sq" x="751.5" y="0" width="12.5" height="60"/>
<rect class="ac" x="764" y="0" width="227.5" height="60"/>
<text class="mn" x="31" y="-8">93</text><text class="mn" x="271" y="-8">94</text><text class="mn" x="511" y="-8">95</text><text class="mn" x="751" y="-8">96</text>
<text class="s1" x="270.5" y="76.5">136</text><text class="s2" x="270.5" y="89.8">112155</text><text class="s3" x="270.5" y="102.5">27.55%</text>
<text class="s1" x="510.5" y="76.5">136</text><text class="s2" x="510.5" y="89.8">112699</text><text class="s3" x="510.5" y="102.5">27.55%</text>
<text class="s1" x="750.5" y="76.5">168</text><text class="s2" x="750.5" y="89.8">113371</text><text class="s3" x="750.5" y="102.5">27.55%</text>
<text class="s1" x="990.5" y="76.5">168</text><text class="s2" x="990.5" y="89.8">114715</text><text class="s3" x="990.5" y="102.5">15.75%</text>
</g>

<g id="row25" transform="translate(0,3589.5)">
<use href="#staff"/>
<path class="u uR" d="M31.5 15h104M151.5 15h44M211.5 15h44"/><path class="u uB" d="M31.5 45h104M151.5 45h44M211.5 45h44"/><path class="u uY" d="M331.5 30h44M391.5 30h44"/><path class="u uO" d="M331.5 60h44M391.5 60h44"/>
<use href="#sR" x="31.5"/><use href="#sB" x="31.5"/><use href="#sR" x="151.5"/><use href="#sB" x="151.5"/><use href="#sR" x="211.5"/><use href="#sB" x="211.5"/>
<use href="#R" x="271.5"/><use href="#B" x="271.5"/><use href="#Y" x="301.5"/><use href="#Y" x="331.5"/><use href="#O" x="331.5"/><use href="#Y" x="391.5"/><use href="#O" x="391.5"/><use href="#Y" x="451.5"/><use href="#O" x="451.5"/>
<use href="#alt"/>
<rect class="sp" x="31.5" y="0" width="224" height="60"/>
<rect class="ac" x="31.5" y="0" width="960" height="60"/>
<text class="mn" x="31" y="-8">97</text><text class="mn" x="271" y="-8">98</text><text class="mn" x="511" y="-8">99</text><text class="mn" x="751" y="-8">100</text>
<text class="s1" x="270.5" y="76.5">228</text><text class="s2" x="270.5" y="89.8">116539</text><text class="s3" x="270.5" y="102.5">39.30%</text>
<text class="s1" x="510.5" y="76.5">261</text><text class="s2" x="510.5" y="89.8">118627</text><text class="s3" x="510.5" y="102.5">26.80%</text>
<text class="s1" x="750.5" y="76.5">136</text><text class="s2" x="750.5" y="89.8">119715</text><text class="s3" x="750.5" y="102.5">14.30%</text>
<text class="s1" x="990.5" y="76.5">136</text><text class="s2" x="990.5" y="89.8">120803</text><text class="s3" x="990.5" y="102.5">1.80%</text>
</g>

<g id="row26" transform="translate(0,3730.5)">
<use href="#staff"/>
<use href="#ro"/><use href="#rbD"/>
<rect class="ac" x="31.5" y="0" width="513.5" height="60"/>
<text class="mn" x="31" y="-8">101</text><text class="mn" x="271" y="-8">102</text><text class="mn" x="511" y="-8">103</text><text class="mn" x="751" y="-8">104</text>
<text class="s1" x="270.5" y="76.5">136</text><text class="s2" x="270.5" y="89.8">121891</text><text class="s3" x="270.5" y="102.5">0.00%</text>
<text class="s1" x="510.5" y="76.5">136</text><text class="s2" x="510.5" y="89.8">122979</text><text class="s3" x="510.5" y="102.5">0.00%</text>
<text class="s1" x="750.5" y="76.5">168</text><text class="s2" x="750.5" y="89.8">124059</text><text class="s3" x="750.5" y="102.5">0.00%</text>
<text class="s1" x="990.5" y="76.5">168</text><text class="s2" x="990.5" y="89.8">124731</text><text class="s3" x="990.5" y="102.5">0.00%</text>
</g>

<g id="row27" transform="translate(0,3871.5)">
<use href="#staff"/>
<use href="#m53"/>
<path class="u uB" d="M511.5 45H991.5"/><path class="u uO" d="M511.5 60H991.5"/>
<use href="#B" x="511.5"/><use href="#O" x="511.5"/>
<text class="mn" x="31" y="-8">105</text><text class="mn" x="271" y="-8">106</text><text class="mn" x="511" y="-8">107</text><text class="mn" x="751" y="-8">108</text>
<text class="s1" x="270.5" y="76.5">228</text><text class="s2" x="270.5" y="89.8">125643</text><text class="s3" x="270.5" y="102.5">0.00%</text>
<text class="s1" x="510.5" y="76.5">261</text><text class="s2" x="510.5" y="89.8">126687</text><text class="s3" x="510.5" y="102.5">0.00%</text>
<text class="s1" x="750.5" y="76.5">146</text><text class="s2" x="750.5" y="89.8">127271</text><text class="s3" x="750.5" y="102.5">0.00%</text>
<text class="s1" x="990.5" y="76.5">96</text><text class="s2" x="990.5" y="89.8">127655</text><text class="s3" x="990.5" y="102.5">0.00%</text>
</g>

<g id="row28" transform="translate(0,3995.5)">
<use href="#staff1"/>
<path class="u uB" d="M31 45h120.5"/><path class="u uO" d="M31 60h120.5"/>
<text class="mn" x="31" y="-8">109</text>
<text class="s1" x="270.5" y="74">48</text><text class="s2" x="270.5" y="85">127847</text><text class="s3" x="270.5" y="96">0.00%</text>
</g>
</svg>
